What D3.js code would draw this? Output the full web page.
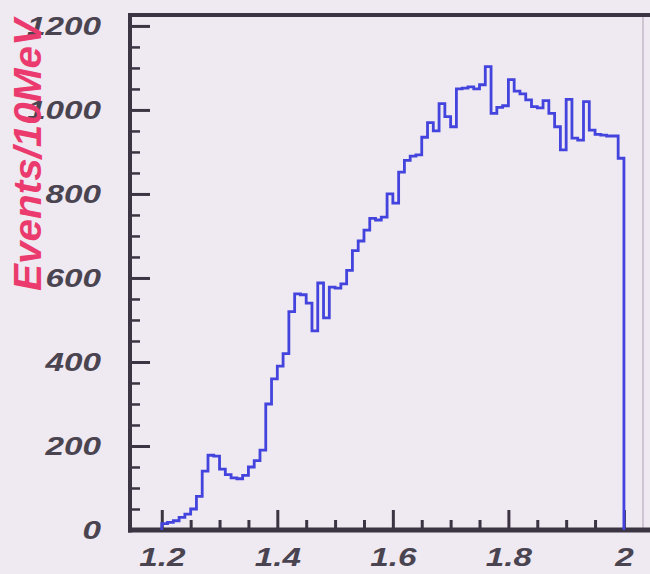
<!DOCTYPE html>
<html>
<head>
<meta charset="utf-8">
<script src="https://cdn.jsdelivr.net/npm/d3@7"></script>
<style>
  html, body { margin: 0; padding: 0; background: #efe9f1; }
  svg { display: block; }
</style>
</head>
<body>
<script>
// Invariant-mass histogram, 10 MeV bins from 1.20 to 2.00 GeV
const binStart = 1.20;
const binWidth = 0.01;
const counts = [
  15, 18, 22, 30, 38, 50, 80, 140, 178, 176,
  145, 132, 124, 122, 130, 150, 165, 190, 300, 360,
  390, 420, 520, 562, 560, 540, 474, 588, 505, 578,
  576, 586, 618, 665, 688, 714, 742, 738, 745, 800,
  778, 852, 880, 890, 893, 935, 970, 950, 1015, 984,
  960, 1050, 1052, 1055, 1050, 1060, 1103, 992, 1006, 1010,
  1072, 1045, 1038, 1024, 1008, 1005, 1022, 992, 960, 905,
  1025, 933, 928, 1020, 952, 942, 940, 938, 938, 885
];
const xMajorTicks = [1.2, 1.4, 1.6, 1.8, 2.0];
const xTickLabels = ["1.2", "1.4", "1.6", "1.8", "2"];
const yMajorTicks = [0, 200, 400, 600, 800, 1000, 1200];
const yTickLabels = ["0", "200", "400", "600", "800", "1000", "1200"];
const yTitle = "Events/10MeV";

const W = 650, H = 574;
const svg = d3.select("body").append("svg").attr("width", W).attr("height", H);

svg.append("rect").attr("width", W).attr("height", H).attr("fill", "#efe9f1");

const x = d3.scaleLinear().domain([1.145, 2.033]).range([130, 643]);
const y = d3.scaleLinear().domain([0, 1226]).range([530, 15]);

const frameColor = "#3b3442";
const tickFont = "'Liberation Sans', Arial, sans-serif";
const tickSize = 26;
const tickStretch = 1.28;   // wide bold-italic digits

// minor ticks
const xMinor = d3.range(0, 17).map(i => +(1.2 + i * 0.05).toFixed(2)).filter(v => !xMajorTicks.some(m => Math.abs(m - v) < 1e-6));
const yMinor = d3.range(0, 25).map(i => i * 50).filter(v => v % 200 !== 0);

svg.append("g").attr("transform", `translate(0,${y(0)})`)
  .call(d3.axisBottom(x).tickValues(xMinor).tickSize(-10).tickFormat(""))
  .call(g => g.select(".domain").remove())
  .call(g => g.selectAll("line").attr("stroke", frameColor).attr("stroke-width", 3));

svg.append("g").attr("transform", `translate(${x.range()[0]},0)`)
  .call(d3.axisLeft(y).tickValues(yMinor).tickSize(-10).tickFormat(""))
  .call(g => g.select(".domain").remove())
  .call(g => g.selectAll("line").attr("stroke", frameColor).attr("stroke-width", 2.5));

function styleLabels(sel) {
  sel.attr("fill", "#4a4450").attr("font-family", tickFont)
    .attr("font-size", tickSize).attr("font-weight", "bold").attr("font-style", "italic")
    .each(function () {
      const t = d3.select(this);
      const x0 = +t.attr("x") || 0;
      t.attr("x", 0).attr("transform", `translate(${x0},0) scale(${tickStretch},1)`);
    });
}

// major ticks with labels
const xAxis = svg.append("g").attr("transform", `translate(0,${y(0)})`)
  .call(d3.axisBottom(x).tickValues(xMajorTicks).tickSize(-20).tickPadding(18)
    .tickFormat((d, i) => xTickLabels[i]))
  .call(g => g.select(".domain").remove());
xAxis.selectAll("line").attr("stroke", frameColor).attr("stroke-width", 3);
styleLabels(xAxis.selectAll("text"));

const yAxis = svg.append("g").attr("transform", `translate(${x.range()[0]},0)`)
  .call(d3.axisLeft(y).tickValues(yMajorTicks).tickSize(-20).tickPadding(29)
    .tickFormat((d, i) => yTickLabels[i]))
  .call(g => g.select(".domain").remove());
yAxis.selectAll("line").attr("stroke", frameColor).attr("stroke-width", 3);
styleLabels(yAxis.selectAll("text"));

// frame
svg.append("line").attr("x1", x.range()[1]).attr("x2", x.range()[1])
  .attr("y1", y.range()[1]).attr("y2", y(0))
  .attr("stroke", "#cfc6d4").attr("stroke-width", 2);
svg.append("line").attr("x1", x.range()[0] - 2).attr("x2", W)
  .attr("y1", y.range()[1]).attr("y2", y.range()[1])
  .attr("stroke", frameColor).attr("stroke-width", 4);
svg.append("line").attr("x1", x.range()[0] - 2).attr("x2", W)
  .attr("y1", y(0)).attr("y2", y(0))
  .attr("stroke", frameColor).attr("stroke-width", 5);
svg.append("line").attr("x1", x.range()[0]).attr("x2", x.range()[0])
  .attr("y1", y.range()[1] - 2).attr("y2", y(0) + 2.5)
  .attr("stroke", frameColor).attr("stroke-width", 4);

// histogram outline
const pts = [[binStart, 0]];
counts.forEach((c, i) => pts.push([binStart + i * binWidth, c]));
pts.push([binStart + counts.length * binWidth, 0]);
const stepLine = d3.line().x(d => x(d[0])).y(d => y(d[1])).curve(d3.curveStepAfter);
svg.append("path").datum(pts)
  .attr("d", stepLine)
  .attr("fill", "none").attr("stroke", "#4343de").attr("stroke-width", 2.8)
  .attr("stroke-linejoin", "miter");

// y title
svg.append("text")
  .attr("transform", "translate(41,155) rotate(-90)")
  .attr("text-anchor", "middle")
  .attr("font-family", tickFont).attr("font-size", 38)
  .attr("font-weight", "bold").attr("font-style", "italic")
  .attr("fill", "#ea3a6e")
  .attr("textLength", 272).attr("lengthAdjust", "spacingAndGlyphs")
  .text(yTitle);
</script>
</body>
</html>
